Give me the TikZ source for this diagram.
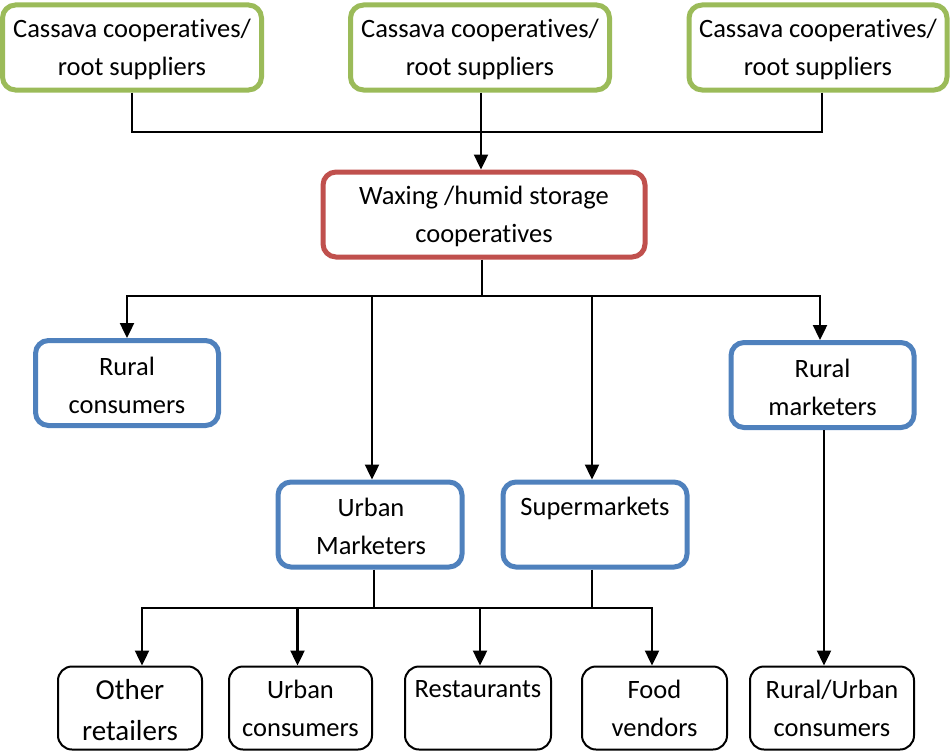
\documentclass[tikz,border=0pt]{standalone}
\usepackage{fontspec}
\setmainfont{Carlito}[Ligatures={NoCommon,NoContextual,NoRare}]
\usetikzlibrary{arrows.meta}
\definecolor{grn}{HTML}{9BBB59}
\definecolor{rd}{HTML}{C0504D}
\definecolor{bl}{HTML}{4F81BD}
\newcommand{\coops}{cooperat\kern0pt ives}
\tikzset{
  box/.style={rectangle, rounded corners=13pt, fill=white, inner sep=0pt},
  gbox/.style={box, draw=grn, line width=5pt},
  rbox/.style={box, draw=rd, line width=5pt},
  bbox/.style={box, draw=bl, line width=5pt},
  kbox/.style={box, draw=black, line width=2pt, rounded corners=14pt},
  txt/.style={align=center, font=\fontsize{26.5}{38}\selectfont, inner sep=0pt},
  bigtxt/.style={align=center, font=\fontsize{29}{41}\selectfont, inner sep=0pt},
  conn/.style={draw=black, line width=2.4pt},
  arr/.style={conn, -{Triangle[width=14pt,length=15pt]}},
}
\begin{document}
\begin{tikzpicture}[x=1pt,y=-1pt]
\useasboundingbox (0,0) rectangle (950,752);
% top row
\node[gbox, minimum width=259pt, minimum height=85pt] (c1) at (132,47.5) {};
\node[gbox, minimum width=259pt, minimum height=85pt] (c2) at (480,47.5) {};
\node[gbox, minimum width=258pt, minimum height=85pt] (c3) at (818,47.5) {};
\node[txt] (c1t) at (132,49) {Cassava \coops/\\root suppliers};
\node[txt] (c2t) at (480,49) {Cassava \coops/\\root suppliers};
\node[txt] (c3t) at (818,49) {Cassava \coops/\\root suppliers};
% red
\node[rbox, minimum width=322pt, minimum height=85pt] (w) at (484,214.5) {};
\node[txt] (wt) at (484,216) {Waxing /humid storage\\\coops};
% blue
\node[bbox, minimum width=183pt, minimum height=85pt] (rc) at (127,383) {};
\node[txt] (rct) at (127,385) {Rural\\consumers};
\node[bbox, minimum width=183pt, minimum height=85pt] (rm) at (822.5,385) {};
\node[txt] (rmt) at (822.5,387) {Rural\\marketers};
\node[bbox, minimum width=184pt, minimum height=85pt] (um) at (370,524.5) {};
\node[txt] (umt) at (371,526) {Urban\\Marketers};
\node[bbox, minimum width=184pt, minimum height=85pt] (sm) at (595,524.5) {};
\node[txt, anchor=base] (smt) at (595,515) {Supermarkets};
% bottom
\node[kbox, minimum width=144pt, minimum height=83pt] (ot) at (130,708) {};
\node[bigtxt] (ott) at (130,710) {Other\\retailers};
\node[kbox, minimum width=143pt, minimum height=83pt] (uc) at (300.5,708) {};
\node[txt] (uct) at (300.5,708) {Urban\\consumers};
\node[kbox, minimum width=146pt, minimum height=83pt] (re) at (478,708) {};
\node[txt, anchor=base] (ret) at (478,697) {Restaurants};
\node[kbox, minimum width=145pt, minimum height=83pt] (fv) at (654.5,708) {};
\node[txt] (fvt) at (654.5,708) {Food\\vendors};
\node[kbox, minimum width=164pt, minimum height=83pt] (ru) at (832,708) {};
\node[txt] (rut) at (832,708) {Rural/Urban\\consumers};
% junctions
\coordinate (j1) at (481,132);
\coordinate (b1) at (482,296);
\coordinate (b2) at (374,608);
% connectors top
\draw[conn] (c1.south) |- (j1);
\draw[conn] (c3.south -| 822,0) |- (j1);
\draw[arr] (c2.south -| j1) -- (j1 |- w.north);
% from red
\draw[conn] (w.south -| b1) -- (b1);
\draw[arr] (b1) -| (rc.north);
\draw[arr] (b1) -| ([xshift=-2.5pt]rm.north);
\draw[arr] ([xshift=2pt]um.north |- b1) -- ([xshift=2pt]um.north);
\draw[arr] ([xshift=-3pt]sm.north |- b1) -- ([xshift=-3pt]sm.north);
% lower
\draw[conn] (um.south -| b2) -- (b2);
\draw[conn] ([xshift=-3pt]sm.south) -- ([xshift=-3pt]sm.south |- b2);
\draw[arr] (b2) -| ([xshift=12pt]ot.north);
\draw[arr] ([xshift=-3pt]uc.north |- b2) -- ([xshift=-3pt]uc.north);
\draw[arr] ([xshift=2pt]re.north |- b2) -- ([xshift=2pt]re.north);
\draw[arr] (b2) -| ([xshift=-2.5pt]fv.north);
\draw[arr] ([xshift=1.5pt]rm.south) -- ([xshift=1.5pt]rm.south |- ru.north);
\end{tikzpicture}
\end{document}
